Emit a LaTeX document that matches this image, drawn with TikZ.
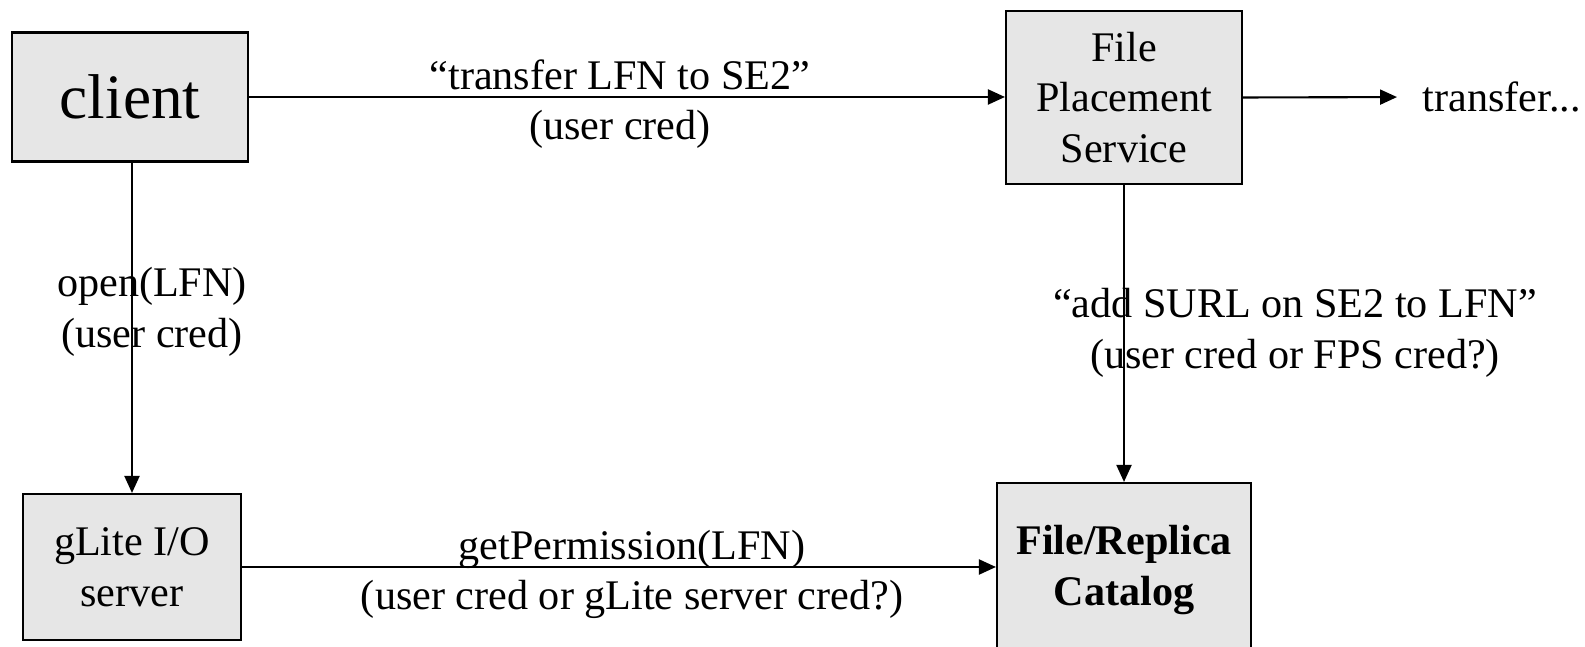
\documentclass[tikz,border=0pt]{standalone}
\usepackage{fontspec}
\setmainfont{Liberation Serif}
\usepackage{tikz}
\usetikzlibrary{arrows.meta}
\definecolor{boxgray}{RGB}{230,230,230}
\tikzset{
	box/.style={shape=rectangle, draw, fill=boxgray, line width=0.6pt, inner sep=0, align=center, font=\fontsize{12}{14.4}\selectfont},
	lbl/.style={inner sep=0, align=center, font=\fontsize{12}{14.4}\selectfont},
	wire/.style={line width=0.6pt, -{Triangle[length=0.17cm, width=0.15cm]}}
}
\begin{document}
\begin{tikzpicture}
	\useasboundingbox (0, 0) rectangle (15.85, 6.47);
	\clip (0, 0) rectangle (15.85, 6.47);
	% Boxes:
	\node[box, minimum width=2.36cm, minimum height=1.29cm, font=\fontsize{18}{21}\selectfont] (Client) at (1.30, 5.50) {client};
	\node[box, minimum width=2.36cm, minimum height=1.73cm] (FPS) at (11.24, 5.495) {File\\Placement\\Service};
	\node[box, minimum width=2.18cm, minimum height=1.46cm] (GLite) at (1.32, 0.80) {gLite I/O\\server};
	\node[box, minimum width=2.54cm, minimum height=1.74cm, font=\fontsize{12}{14.4}\selectfont\bfseries] (FRC) at (11.24, 0.77) {File/Replica\\Catalog};
	% Labels:
	\node[lbl] (Lbl1) at (6.20, 5.43) {“transfer LFN to SE2”\\(user cred)};
	\node[lbl] (Lbl2) at (1.52, 3.35) {open(LFN)\\(user cred)};
	\node[lbl] (Lbl3) at (12.95, 3.14) {“add SURL on SE2 to LFN”\\(user cred or FPS cred?)};
	\node[lbl] (Lbl4) at (6.32, 0.725) {getPermission(LFN)\\(user cred or gLite server cred?)};
	\node[lbl, anchor=west] (Xfer) at (14.22, 5.50) {transfer...};
	% Connectors:
	\draw[wire] (Client.east) -- (Client.east -| FPS.west);
	\draw[wire] (GLite.north |- Client.south) -- (GLite.north);
	\draw[wire] (FPS.south) -- (FRC.north);
	\draw[wire] (GLite.east) -- (GLite.east -| FRC.west);
	\draw[wire, shorten >=0.25cm] (FPS.east) -- (Xfer.west);
\end{tikzpicture}
\end{document}
